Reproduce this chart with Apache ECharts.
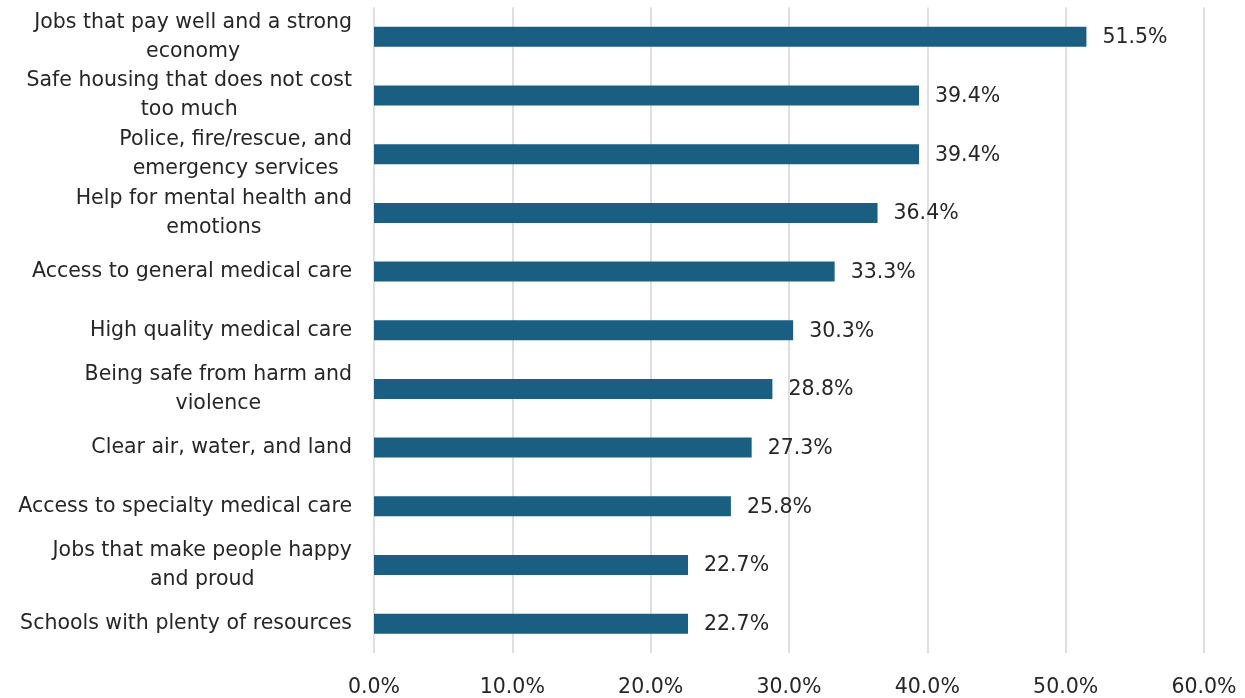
<!DOCTYPE html>
<html>
<head>
<meta charset="utf-8">
<script src="https://cdn.jsdelivr.net/npm/echarts@6/dist/echarts.min.js"></script>
<style>
  html, body { margin: 0; padding: 0; background: #fff; }
  #chart { width: 1245px; height: 698px; }
</style>
</head>
<body>
<div id="chart"></div>
<script>
// Community priorities: share of respondents choosing each item
const categories = [
  'Jobs that pay well and a strong\neconomy',
  'Safe housing that does not cost\ntoo much',
  'Police, fire/rescue, and\nemergency services',
  'Help for mental health and\nemotions',
  'Access to general medical care',
  'High quality medical care',
  'Being safe from harm and\nviolence',
  'Clear air, water, and land',
  'Access to specialty medical care',
  'Jobs that make people happy\nand proud',
  'Schools with plenty of resources'
];
const values = [51.5, 39.4, 39.4, 36.4, 33.3, 30.3, 28.8, 27.3, 25.8, 22.7, 22.7];
const xTicks = [0, 10, 20, 30, 40, 50, 60];

const FONT = '"DejaVu Sans", sans-serif';
const SIZE = 20.5;
const TEXT = '#262626';

const chart = echarts.init(document.getElementById('chart'), null, { renderer: 'canvas' });

chart.setOption({
  animation: false,
  backgroundColor: '#ffffff',
  grid: { left: 374, right: 41, top: 7.5, bottom: 42.5, containLabel: false },
  xAxis: {
    type: 'value',
    min: xTicks[0],
    max: xTicks[xTicks.length - 1],
    interval: 10,
    axisLine: { show: false },
    axisTick: { show: false },
    splitLine: { show: true, lineStyle: { color: '#d4d4d4', width: 1.5 } },
    axisLabel: {
      margin: 24,
      fontFamily: FONT,
      fontSize: SIZE,
      color: TEXT,
      formatter: v => v.toFixed(1) + '%'
    }
  },
  yAxis: {
    type: 'category',
    inverse: true,
    data: categories,
    axisLine: { show: false },
    axisTick: { show: false },
    splitLine: { show: false },
    axisLabel: {
      interval: 0,
      showMinLabel: true,
      showMaxLabel: true,
      margin: 22,
      align: 'right',
      fontFamily: FONT,
      fontSize: SIZE,
      color: TEXT,
      lineHeight: 29,
      // each line is centred within the right-aligned label block
      formatter: v => v.split('\n').map(s => '{c|' + s + '}').join('\n'),
      rich: {
        c: { align: 'center', fontFamily: FONT, fontSize: SIZE, color: TEXT, lineHeight: 29 }
      }
    }
  },
  series: [{
    type: 'bar',
    data: values,
    barWidth: 20,
    itemStyle: { color: '#1a5f81' },
    label: {
      show: true,
      position: 'right',
      distance: 16,
      offset: [0, 1],
      fontFamily: FONT,
      fontSize: SIZE,
      color: TEXT,
      formatter: p => p.value.toFixed(1) + '%'
    }
  }]
});
</script>
</body>
</html>
